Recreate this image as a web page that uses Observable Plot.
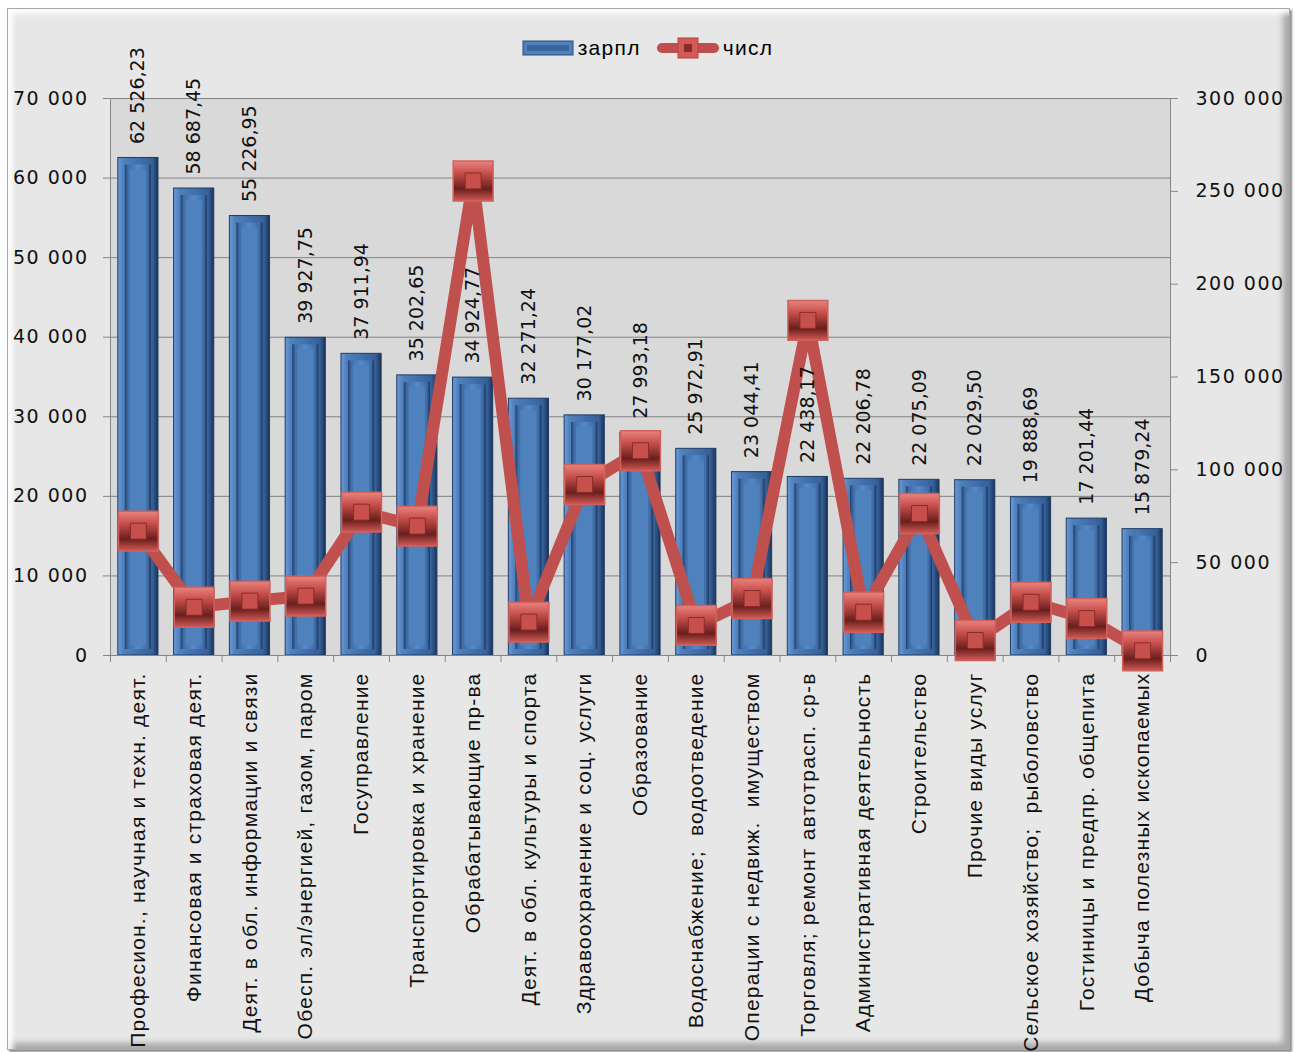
<!DOCTYPE html>
<html><head><meta charset="utf-8">
<script src="https://cdn.jsdelivr.net/npm/d3@7"></script>
<script src="https://cdn.jsdelivr.net/npm/@observablehq/plot@0.6"></script>
<style>
html,body{margin:0;padding:0;background:#fff;}
#wrap{position:relative;width:1295px;height:1052px;overflow:hidden;}
#frame{position:absolute;left:7px;top:8px;width:1281px;height:1040px;background:#e7e7e7;border:1px solid #a8a8a8;
  box-shadow: inset 5px 5px 5px rgba(255,255,255,.9), inset -6px -6px 6px rgba(0,0,0,.28), 2px 2px 2px rgba(0,0,0,.45);}
#chart{position:absolute;left:0;top:0;}
#legend{position:absolute;top:36px;left:0;width:1295px;display:flex;justify-content:center;align-items:center;
  font-family:"Liberation Sans",Arial,sans-serif;font-size:21px;letter-spacing:1.3px;color:#000;}
#legend .item{display:flex;align-items:center;margin:0 8px;}
#legend svg{margin-right:4px;}
g[aria-label="x-axis tick label"] text{letter-spacing:1.2px;}
g[aria-label="y-axis tick label"] text{letter-spacing:1.5px;}
</style>
</head><body>
<div id="wrap"><div id="frame"></div><div id="chart"></div>
<div id="legend">
  <div class="item"><svg width="52" height="16"><rect x="1" y="1" width="50" height="14" fill="#4f81bd" stroke="#2c4d7a"/><rect x="5" y="5" width="42" height="6" fill="#3a66a0"/></svg><span>зарпл</span></div>
  <div class="item"><svg width="62" height="22"><line x1="5" y1="11" x2="57" y2="11" stroke="#c0504d" stroke-width="10" stroke-linecap="round"/><rect x="21" y="1" width="20" height="20" fill="#d35a56" stroke="#b8433f"/><rect x="27" y="7" width="8" height="8" fill="#8a2c29"/></svg><span>числ</span></div>
</div>
</div>
<script>
const categories = [
  "Професион., научная и техн. деят.",
  "Финансовая и страховая деят.",
  "Деят. в обл. информации и связи",
  "Обесп. эл/энергией, газом, паром",
  "Госуправление",
  "Транспортировка и хранение",
  "Обрабатывающие пр-ва",
  "Деят. в обл. культуры и спорта",
  "Здравоохранение и соц. услуги",
  "Образование",
  "Водоснабжение;  водоотведение",
  "Операции с недвиж.  имуществом",
  "Торговля; ремонт автотрасп. ср-в",
  "Административная деятельность",
  "Строительство",
  "Прочие виды услуг",
  "Сельское хозяйство;  рыболовство",
  "Гостиницы и предпр. общепита",
  "Добыча полезных ископаемых"
];
const salary = [62526.23, 58687.45, 55226.95, 39927.75, 37911.94, 35202.65, 34924.77, 32271.24, 30177.02, 27993.18,
  25972.91, 23044.41, 22438.17, 22206.78, 22075.09, 22029.50, 19888.69, 17201.44, 15879.24];
const headcount = [67000, 26000, 29300, 32000, 77200, 69700, 255600, 18000, 92100, 110300,
  16200, 30700, 180500, 23300, 76500, 8100, 28700, 19900, 2500];
const leftTicks = [0, 10000, 20000, 30000, 40000, 50000, 60000, 70000];
const rightTicks = [0, 50000, 100000, 150000, 200000, 250000, 300000];
const leftMax = 70000, rightMax = 300000;

const data = categories.map((c, i) => ({cat: c, salary: salary[i], count: headcount[i]}));
const k = leftMax / rightMax; // right-axis values expressed in left-axis units

const locale = d3.formatLocale({decimal: ",", thousands: "\u00a0", grouping: [3], currency: ["", ""]});
const fmtInt = locale.format(",.0f");
const fmtDec = locale.format(",.2f");

const W = 1295, H = 1052;
const ml = 110, mr = 125, mt = 98, mb = 397;
const step = (W - ml - mr) / categories.length;

const defs = () => {
  const ns = "http://www.w3.org/2000/svg";
  const g = document.createElementNS(ns, "defs");
  g.innerHTML = `
    <linearGradient id="barOuter" x1="0" x2="1" y1="0" y2="0">
      <stop offset="0" stop-color="#6b9ad8"/><stop offset="0.14" stop-color="#4f81bd"/>
      <stop offset="0.86" stop-color="#36609a"/><stop offset="1" stop-color="#1b3356"/>
    </linearGradient>
    <linearGradient id="barInner" x1="0" x2="1" y1="0" y2="0">
      <stop offset="0" stop-color="#233f68"/><stop offset="0.12" stop-color="#3f6ea8"/>
      <stop offset="0.5" stop-color="#5489cb"/><stop offset="0.88" stop-color="#3f6ea8"/>
      <stop offset="1" stop-color="#1d355a"/>
    </linearGradient>
    <linearGradient id="mark" x1="0" x2="0" y1="0" y2="1">
      <stop offset="0" stop-color="#e8837f"/><stop offset="0.3" stop-color="#c8504c"/>
      <stop offset="0.7" stop-color="#6a1f1d"/><stop offset="1" stop-color="#d05a56"/>
    </linearGradient>`;
  return g;
};

const chart = Plot.plot({
  width: W, height: H,
  marginLeft: ml, marginRight: mr, marginTop: mt, marginBottom: mb,
  style: {fontFamily: "DejaVu Sans, sans-serif", fontSize: "19px", color: "#000", background: "transparent", overflow: "visible"},
  x: {domain: categories, paddingInner: 0.28, paddingOuter: 0.14, round: false, axis: null, label: null},
  y: {domain: [0, leftMax], axis: null, label: null},
  marks: [
    defs,
    Plot.frame({fill: "#d9d9d9", stroke: "none"}),
    Plot.gridY(leftTicks, {stroke: "#848484", strokeOpacity: 1, strokeWidth: 1}),
    Plot.barY(data, {x: "cat", y: "salary", fill: "url(#barOuter)", stroke: "#1f3b63", strokeWidth: 1}),
    Plot.barY(data, {x: "cat", y: "salary", fill: "url(#barInner)", insetLeft: 7, insetRight: 7, insetTop: 7, insetBottom: 6}),
    Plot.barY(data, {x: "cat", y: "salary", fill: "#4f81bd", insetLeft: 12, insetRight: 12, insetTop: 12, insetBottom: 10}),
    Plot.frame({anchor: "left", stroke: "#868686"}),
    Plot.frame({anchor: "right", stroke: "#868686"}),
    Plot.ruleY([0], {stroke: "#868686"}),
    Plot.ruleX(categories, {x: d => d, y1: 0, y2: 0, insetBottom: -7, dx: -step / 2, stroke: "#868686"}),
    Plot.ruleX(categories.slice(-1), {x: d => d, y1: 0, y2: 0, insetBottom: -7, dx: step / 2, stroke: "#868686"}),
    Plot.axisY({anchor: "left", label: null, ticks: leftTicks, tickFormat: fmtInt, tickSize: 7, tickPadding: 15, stroke: "#868686", fill: "#111", fontSize: 19}),
    Plot.axisY({anchor: "right", label: null, ticks: rightTicks.map(v => v * k), tickFormat: v => fmtInt(Math.round(v / k)), tickSize: 7, tickPadding: 18, stroke: "#868686", fill: "#111", fontSize: 19}),
    Plot.axisX({anchor: "bottom", label: null, tickSize: 0, tickPadding: 17, tickRotate: -90, fontSize: 21, fontFamily: "Liberation Sans, Arial, sans-serif", fill: "#111"}),
    Plot.line(data, {x: "cat", y: d => d.count * k, stroke: "#c0504d", strokeWidth: 12, strokeLinejoin: "round", strokeLinecap: "round"}),
    Plot.dot(data, {x: "cat", y: d => d.count * k, symbol: "square", r: 22.5, fill: "url(#mark)", stroke: "#d0625e", strokeWidth: 1.5}),
    Plot.dot(data, {x: "cat", y: d => d.count * k, symbol: "square", r: 9, fill: "#c8504c", stroke: "#8a2c29", strokeWidth: 1}),
    Plot.text(data, {x: "cat", y: "salary", text: d => fmtDec(d.salary), rotate: -90, textAnchor: "start", dy: -14, fontSize: 19, fill: "#111", style: "letter-spacing:1px"})
  ]
});
document.getElementById("chart").appendChild(chart);
</script>
</body></html>
